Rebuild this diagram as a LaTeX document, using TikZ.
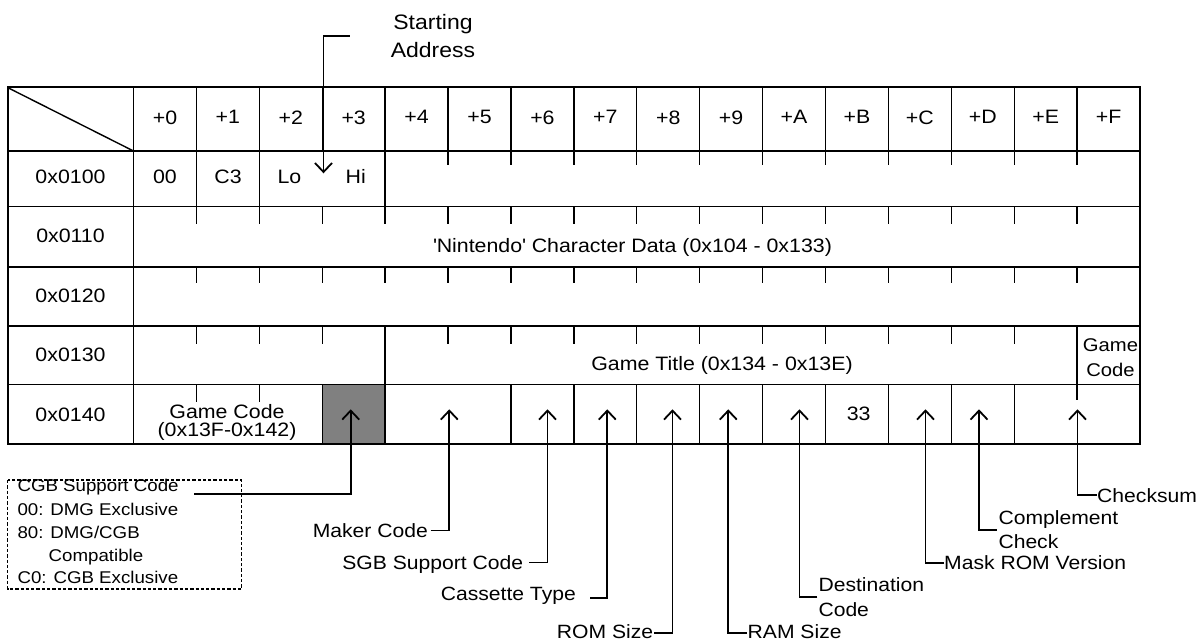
\documentclass[tikz,border=0pt]{standalone}
\usepackage{fontspec}
\setmainfont{Liberation Sans}[FakeStretch=1.1]
\usetikzlibrary{arrows.meta}
\definecolor{cellgray}{RGB}{128,128,128}
\begin{document}
\begin{tikzpicture}[x=1pt,y=-1pt,
  grid/.style={line width=1.4pt},
  frame/.style={line width=2pt},
  arr/.style={line width=1.8pt,-{Straight Barb[length=9pt,width=17pt]}},
  cell/.style={inner sep=0pt,text depth=0pt,font=\fontsize{19.4}{23}\selectfont},
  lab/.style={inner sep=0pt,text depth=0pt,align=left,font=\fontsize{19.2}{25.5}\selectfont},
  leg/.style={inner sep=0pt,anchor=base west,font=\fontsize{17}{23}\selectfont},
  legbox/.style={line width=1.2pt,dash pattern=on 3.3pt off 2pt}]
\useasboundingbox (0,0) rectangle (1200,642);

% gray cell
\fill[cellgray] ({133.5+62.91*3},384.5) rectangle ({133.5+62.91*4},444);

% horizontal grid lines
\foreach \y in {151,206.5,267,326,384.5}
  \draw[grid] (7.5,\y) -- (1140,\y);
% first column and diagonal
\draw[grid] (133.5,87.5) -- (133.5,444);
\draw[grid] (7.5,87.5) -- (133.5,151);
% header row separators
\foreach \k in {1,...,15}
  \draw[grid] ({133.5+62.91*\k},87.5) -- ({133.5+62.91*\k},151);
% row 0x0100
\foreach \k in {1,2,4}
  \draw[grid] ({133.5+62.91*\k},151) -- ({133.5+62.91*\k},206.5);
\foreach \k in {5,...,15}
  \draw[grid] ({133.5+62.91*\k},151) -- ({133.5+62.91*\k},164.5);
% row 0x0110
\foreach \k in {1,...,15}
  \draw[grid] ({133.5+62.91*\k},206.5) -- ({133.5+62.91*\k},224);
% row 0x0120
\foreach \k in {1,...,15}
  \draw[grid] ({133.5+62.91*\k},267) -- ({133.5+62.91*\k},283);
% row 0x0130
\foreach \k in {1,2,3,5,6,7,8,9,10,11,12,13,14}
  \draw[grid] ({133.5+62.91*\k},326) -- ({133.5+62.91*\k},343.5);
\foreach \k in {4,15}
  \draw[grid] ({133.5+62.91*\k},326) -- ({133.5+62.91*\k},384.5);
% row 0x0140
\foreach \k in {1,2}
  \draw[grid] ({133.5+62.91*\k},384.5) -- ({133.5+62.91*\k},402);
\draw[grid] ({133.5+62.91*15},384.5) -- ({133.5+62.91*15},399.5);
\foreach \k in {3,4,6,7,8,9,10,11,12,13,14}
  \draw[grid] ({133.5+62.91*\k},384.5) -- ({133.5+62.91*\k},444);
% outer frame
\draw[frame] (7.5,87.5) rectangle (1140,444);

% header texts
\foreach \h [count=\i from 0] in {0,1,2,3,4,5,6,7,8,9,A,B,C,D,E,F}
  \node[cell] (h\h) at ({133.5+62.91*(\i+0.5)},117.3) {+\h};
% row labels
\foreach \r/\y in {0/176.7,1/235.7,2/296,3/355,4/415}
  \node[cell] (r\r) at (70.5,\y) {0x01\r0};

% row 0x0100 contents
\node[cell] (b00) at (165,176.7) {00};
\node[cell] (b01) at (228,176.7) {C3};
\node[cell] (b02) at (289.5,176.7) {Lo};
\node[cell] (b03) at (355.8,176.7) {Hi};
% merged texts
\node[cell] (nin) at (632.5,245) {\textquotesingle Nintendo\textquotesingle{} Character Data (0x104 - 0x133)};
\node[cell] (title) at (722,363.3) {Game Title (0x134 - 0x13E)};
\node[inner sep=0pt,align=center,font=\fontsize{18.4}{25}\selectfont] (gcF) at (1110.5,357.4) {Game\\Code};
\node[inner sep=0pt,align=center,font=\fontsize{19.4}{18.3}\selectfont] (gc) at (227,422.5) {Game Code\\(0x13F-0x142)};
\node[cell] (b4B) at (858.7,414) {33};

% Starting address
\node[inner sep=0pt,align=center,font=\fontsize{20.9}{28.4}\selectfont] (sa) at (433,36) {Starting\\Address};
\coordinate (saStart) at (349.6,36);
\coordinate (tSA) at (323.5,173.3);
\draw[arr] (saStart) -| (tSA);

% arrow tips
\coordinate (tCGB) at (350.7,409.3);
\coordinate (tMaker) at (449.3,409.3);
\coordinate (tSGB) at (547.5,409.3);
\coordinate (tCass) at (607.3,409.3);
\coordinate (tROM) at (672.5,409.3);
\coordinate (tRAM) at (728.3,409.3);
\coordinate (tDest) at (799.5,409.3);
\coordinate (tMask) at (925.5,409.3);
\coordinate (tComp) at (979,409.3);
\coordinate (tCheck) at (1077.5,409.3);

% legend
\draw[legbox] (7.7,480) rectangle (241.7,589);
\node[leg] (g1) at (17.3,491.1) {CGB Support Code};
\node[leg] (g2) at (17.3,515.4) {00: DMG Exclusive};
\node[leg] (g3) at (17.3,538.8) {80: DMG/CGB};
\node[leg] (g4) at (48.5,561.1) {Compatible};
\node[leg] (g5) at (17.3,583.4) {C0: CGB Exclusive};
\coordinate (cgbStart) at (194,494);
\draw[arr] (cgbStart) -| (tCGB);

% labels
\node[lab,anchor=east] (lMaker) at (428,530.5) {Maker Code};
\draw[arr] ([xshift=2.7pt]lMaker.east) -| (tMaker);
\node[lab,anchor=east] (lSGB) at (523.3,562.5) {SGB Support Code};
\draw[arr] ([xshift=6pt]lSGB.east) -| (tSGB);
\node[lab,anchor=east] (lCass) at (576,593.3) {Cassette Type};
\draw[arr] ([xshift=14pt,yshift=-4.4pt]lCass.east) -| (tCass);
\node[lab,anchor=east] (lROM) at (653.3,631.5) {ROM Size};
\draw[arr] ([xshift=0.7pt,yshift=-1.8pt]lROM.east) -| (tROM);
\node[lab,anchor=west] (lRAM) at (747.5,632) {RAM Size};
\draw[arr] ([xshift=-0.5pt,yshift=-0.7pt]lRAM.west) -| (tRAM);
\node[lab,anchor=west] (lDest) at (818.3,597.2) {Destination\\Code};
\draw[arr] ([xshift=-1pt]lDest.west) -| (tDest);
\node[lab,anchor=west] (lMask) at (944,563) {Mask ROM Version};
\draw[arr] (lMask.west) -| (tMask);
\node[lab,anchor=west,font=\fontsize{19.2}{24.4}\selectfont] (lComp) at (998.3,529.6) {Complement\\Check};
\draw[arr] ([xshift=-1.6pt,yshift=-0.4pt]lComp.west) -| (tComp);
\node[lab,anchor=west] (lCheck) at (1097,495.3) {Checksum};
\draw[arr] (lCheck.west) -| (tCheck);
\end{tikzpicture}
\end{document}
